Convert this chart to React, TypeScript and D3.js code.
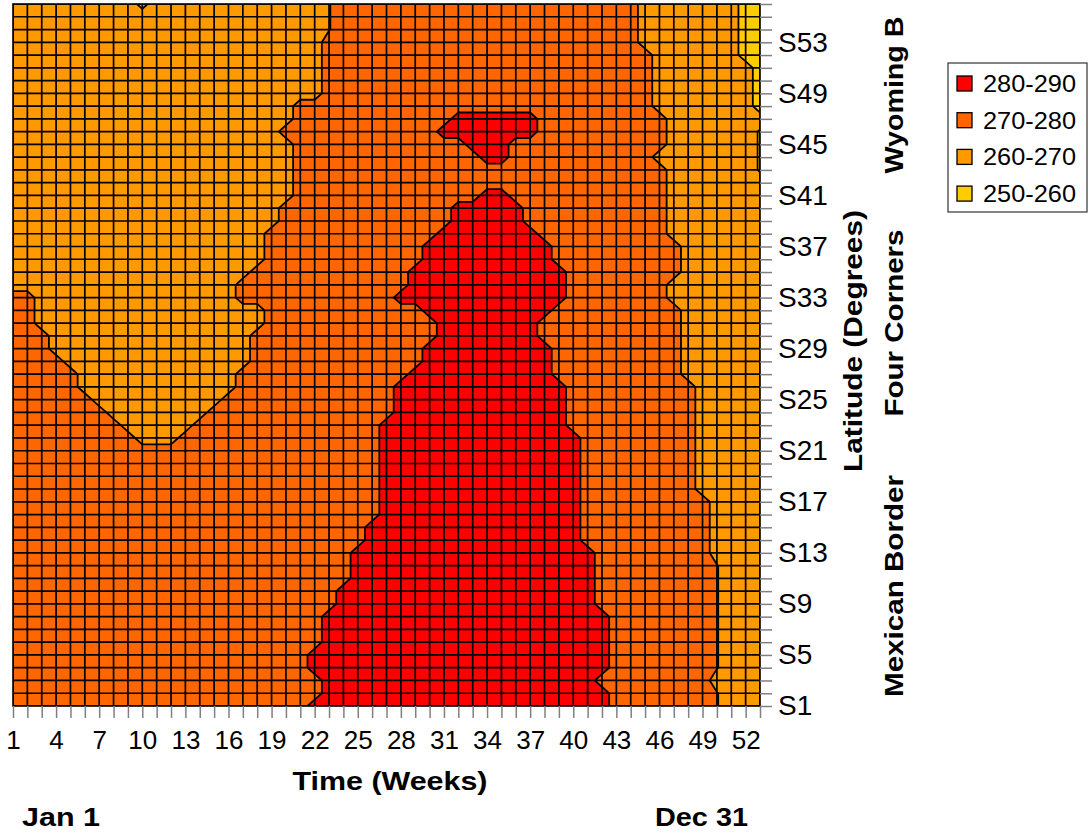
import React, { useEffect, useRef } from 'react';
import * as d3 from 'd3';

// one string per latitude series, S1 first; one letter per week (spaces only group by 5)
// y = 250-260, l = 260-270, o = 270-280, r = 280-290
// a/b = just under 260, m = just under 270, n = just over 270
const bandRows = [
  'ooooo ooooo ooooo ooooo orrrr rrrrr rrrrr rrrrr rrooo oooon lll', // S1
  'ooooo ooooo ooooo ooooo oorrr rrrrr rrrrr rrrrr rrooo oooon lll',
  'ooooo ooooo ooooo ooooo oorrr rrrrr rrrrr rrrrr roooo ooool lll',
  'ooooo ooooo ooooo ooooo orrrr rrrrr rrrrr rrrrr rrooo oooon lll',
  'ooooo ooooo ooooo ooooo orrrr rrrrr rrrrr rrrrr rrooo oooon lll', // S5
  'ooooo ooooo ooooo ooooo oorrr rrrrr rrrrr rrrrr rrooo oooon lll',
  'ooooo ooooo ooooo ooooo oorrr rrrrr rrrrr rrrrr rrooo oooon lll',
  'ooooo ooooo ooooo ooooo oorrr rrrrr rrrrr rrrrr rrooo oooon lll',
  'ooooo ooooo ooooo ooooo ooorr rrrrr rrrrr rrrrr roooo oooon lll', // S9
  'ooooo ooooo ooooo ooooo ooorr rrrrr rrrrr rrrrr roooo oooon lll',
  'ooooo ooooo ooooo ooooo oooor rrrrr rrrrr rrrrr roooo oooon lll',
  'ooooo ooooo ooooo ooooo oooor rrrrr rrrrr rrrrr roooo oooon lll',
  'ooooo ooooo ooooo ooooo oooor rrrrr rrrrr rrrrr roooo ooool lll', // S13
  'ooooo ooooo ooooo ooooo ooooo rrrrr rrrrr rrrrr ooooo ooool lll',
  'ooooo ooooo ooooo ooooo ooooo rrrrr rrrrr rrrrr ooooo ooool lll',
  'ooooo ooooo ooooo ooooo ooooo orrrr rrrrr rrrrr ooooo ooool lll',
  'ooooo ooooo ooooo ooooo ooooo orrrr rrrrr rrrrr ooooo ooool lll', // S17
  'ooooo ooooo ooooo ooooo ooooo orrrr rrrrr rrrrr ooooo oooll lll',
  'ooooo ooooo ooooo ooooo ooooo orrrr rrrrr rrrrr ooooo oooll lll',
  'ooooo ooooo ooooo ooooo ooooo orrrr rrrrr rrrrr ooooo oooll lll',
  'ooooo ooooo ooooo ooooo ooooo orrrr rrrrr rrrrr ooooo oooll lll', // S21
  'ooooo ooool llooo ooooo ooooo orrrr rrrrr rrrrr ooooo oooll lll',
  'ooooo oooll llloo ooooo ooooo orrrr rrrrr rrrro ooooo oooll lll',
  'ooooo oolll llllo ooooo ooooo oorrr rrrrr rrrro ooooo oooll lll',
  'ooooo ollll lllll ooooo ooooo oorrr rrrrr rrrro ooooo oooll lll', // S25
  'ooooo lllll lllll loooo ooooo oorrr rrrrr rrrro ooooo oooll lll',
  'ooooo lllll lllll loooo ooooo ooorr rrrrr rrroo ooooo oolll lll',
  'ooool lllll lllll llooo ooooo oooor rrrrr rrroo ooooo oolll lll',
  'oooll lllll lllll llooo ooooo oooor rrrrr rrroo ooooo oolll lll', // S29
  'oooll lllll lllll llooo ooooo ooooo rrrrr rrooo ooooo oolll lll',
  'oolll lllll lllll llloo ooooo ooooo rrrrr rrooo ooooo oolll lll',
  'oolll lllll lllll llloo ooooo oooor rrrrr rrroo ooooo oolll lll',
  'oolll lllll lllll loooo ooooo oorrr rrrrr rrrro ooooo ollll lll', // S33
  'lllll lllll lllll loooo ooooo ooorr rrrrr rrrro ooooo ollll lll',
  'lllll lllll lllll llooo ooooo ooorr rrrrr rrrro ooooo oolll lll',
  'lllll lllll lllll llloo ooooo oooor rrrrr rrroo ooooo oolll lll',
  'lllll lllll lllll llloo ooooo oooor rrrrr rrroo ooooo oolll lll', // S37
  'lllll lllll lllll llloo ooooo ooooo rrrrr rrooo ooooo ollll lll',
  'lllll lllll lllll llllo ooooo ooooo orrrr roooo ooooo ollll lll',
  'lllll lllll lllll llllo ooooo ooooo orrrr roooo ooooo ollll lll',
  'lllll lllll lllll lllll ooooo ooooo ooorr ooooo ooooo ollll lll', // S41
  'lllll lllll lllll lllll ooooo ooooo ooooo ooooo ooooo ollll lll',
  'lllll lllll lllll lllll ooooo ooooo ooooo ooooo ooooo ollll llb',
  'lllll lllll lllll lllll ooooo ooooo ooorr ooooo ooooo lllll llb',
  'lllll lllll lllll lllll ooooo ooooo oorrr ooooo ooooo ollll llb', // S45
  'lllll lllll lllll llllo ooooo ooooo rrrrr rrooo ooooo ollll llb',
  'lllll lllll lllll lllll ooooo ooooo orrrr rrooo ooooo ollll lll',
  'lllll lllll lllll lllll ooooo ooooo ooooo ooooo ooooo lllll lly',
  'lllll lllll lllll lllll llooo ooooo ooooo ooooo ooooo lllll lly', // S49
  'lllll lllll lllll lllll llooo ooooo ooooo ooooo ooooo lllll lly',
  'lllll lllll lllll lllll llooo ooooo ooooo ooooo ooooo lllll lly',
  'lllll lllll lllll lllll llooo ooooo ooooo ooooo ooooo lllll lyy',
  'lllll lllll lllll lllll llooo ooooo ooooo ooooo ooool lllll lyy', // S53
  'lllll lllll lllll lllll llmoo ooooo ooooo ooooo ooool lllll lyy',
  'lllll lllll lllll lllll llmoo ooooo ooooo ooooo ooool lllll lyy',
  'lllll lllla lllll lllll llmoo ooooo ooooo ooooo ooool lllll lyy', // S56
];

const bandValues: Record<string, number> = {
  y: 255, a: 257, b: 259, l: 265, m: 269.5, n: 270.5, o: 275, r: 285,
};

const weekCount = 53;
const seriesCount = 56;
const weekLabels = [1, 4, 7, 10, 13, 16, 19, 22, 25, 28, 31, 34, 37, 40, 43, 46, 49, 52];
const seriesLabels = [1, 5, 9, 13, 17, 21, 25, 29, 33, 37, 41, 45, 49, 53];

const levels = [250, 260, 270, 280];
const levelColors = ['#FFCC00', '#FF9900', '#FF6600', '#FF0000'];
const legendLabels = ['280-290', '270-280', '260-270', '250-260'];
const legendColors = ['#FF0000', '#FF6600', '#FF9900', '#FFCC00'];

const FONT = '"Liberation Sans", Arial, sans-serif';

export default function App() {
  const ref = useRef<SVGSVGElement>(null);

  useEffect(() => {
    const svg = d3.select(ref.current);
    svg.selectAll('*').remove();

    const L = 13, R = 760, T = 4, B = 706;

    // top row first for the contour grid
    const values: number[] = [];
    bandRows
      .slice()
      .reverse()
      .forEach(row => {
        row.replace(/ /g, '').split('').forEach(ch => values.push(bandValues[ch]));
      });

    const x = d3.scaleLinear().domain([1, weekCount]).range([L, R]);
    const y = d3.scaleLinear().domain([1, seriesCount]).range([B, T]);

    // d3.contours puts sample i at i + 0.5
    const cx = d3.scaleLinear().domain([0.5, weekCount - 0.5]).range([L, R]);
    const cy = d3.scaleLinear().domain([0.5, seriesCount - 0.5]).range([T, B]);
    const proj = d3.geoTransform({
      point(px, py) {
        this.stream.point(cx(px), cy(py));
      },
    });
    const path = d3.geoPath(proj);

    const contours = d3.contours().size([weekCount, seriesCount]).thresholds(levels)(values);

    svg
      .append('defs')
      .append('clipPath')
      .attr('id', 'plot-clip')
      .append('rect')
      .attr('x', L)
      .attr('y', T)
      .attr('width', R - L)
      .attr('height', B - T);

    const plot = svg.append('g').attr('clip-path', 'url(#plot-clip)');

    plot
      .selectAll('path.band')
      .data(contours)
      .enter()
      .append('path')
      .attr('class', 'band')
      .attr('d', d => path(d as any))
      .attr('fill', (d, i) => levelColors[i]);

    // surface wireframe
    const grid = plot.append('g').attr('stroke', '#000').attr('stroke-width', 1.7);
    grid
      .selectAll('line.v')
      .data(d3.range(1, weekCount + 1))
      .enter()
      .append('line')
      .attr('x1', d => x(d))
      .attr('x2', d => x(d))
      .attr('y1', T)
      .attr('y2', B);
    grid
      .selectAll('line.h')
      .data(d3.range(1, seriesCount + 1))
      .enter()
      .append('line')
      .attr('x1', L)
      .attr('x2', R)
      .attr('y1', d => y(d))
      .attr('y2', d => y(d));

    // contour lines
    plot
      .selectAll('path.iso')
      .data(contours.slice(1))
      .enter()
      .append('path')
      .attr('class', 'iso')
      .attr('d', d => path(d as any))
      .attr('fill', 'none')
      .attr('stroke', '#000')
      .attr('stroke-width', 1.8)
      .attr('stroke-linejoin', 'round');

    svg
      .append('rect')
      .attr('x', L)
      .attr('y', T)
      .attr('width', R - L)
      .attr('height', B - T)
      .attr('fill', 'none')
      .attr('stroke', '#000')
      .attr('stroke-width', 1.6);

    const xAxis = d3
      .axisBottom(x)
      .tickValues(d3.range(1, weekCount + 1))
      .tickSize(12)
      .tickPadding(13)
      .tickFormat(d => (weekLabels.includes(+d) ? String(d) : ''));

    const gx = svg.append('g').attr('transform', `translate(0,${B})`).call(xAxis);

    const yAxis = d3
      .axisRight(y)
      .tickValues(d3.range(1, seriesCount + 1))
      .tickSize(12)
      .tickPadding(6)
      .tickFormat(d => (seriesLabels.includes(+d) ? 'S' + d : ''));

    const gy = svg.append('g').attr('transform', `translate(${R},0)`).call(yAxis);

    [gx, gy].forEach(g => {
      g.select('.domain').remove();
      g.selectAll('.tick line').attr('stroke', '#808080').attr('stroke-width', 1.5);
      g.selectAll('.tick text').attr('fill', '#000').style('font-family', FONT);
    });
    gx.selectAll('.tick text').style('font-size', '26px');
    gy.selectAll('.tick text').style('font-size', '28px');

    const bold = (text: string, tx: number, ty: number, anchor: string, len: number, rotate = false) =>
      svg
        .append('text')
        .attr('transform', `translate(${tx},${ty})` + (rotate ? ' rotate(-90)' : ''))
        .attr('text-anchor', anchor)
        .attr('dy', rotate ? '0.35em' : 0)
        .attr('textLength', len)
        .attr('lengthAdjust', 'spacingAndGlyphs')
        .style('font-family', FONT)
        .style('font-weight', 'bold')
        .style('font-size', '26px')
        .attr('fill', '#000')
        .text(text);

    bold('Time (Weeks)', 390, 790, 'middle', 195);
    bold('Jan 1', 22, 826, 'start', 78);
    bold('Dec 31', 655, 826, 'start', 93);
    bold('Latitude (Degrees)', 853, 341, 'middle', 262, true);
    bold('Wyoming B', 894, 95, 'middle', 157, true);
    bold('Four Corners', 894, 323, 'middle', 187, true);
    bold('Mexican Border', 894, 586, 'middle', 222, true);

    // legend
    const legend = svg.append('g');
    legend
      .append('rect')
      .attr('x', 948)
      .attr('y', 63)
      .attr('width', 139)
      .attr('height', 149)
      .attr('fill', '#fff')
      .attr('stroke', '#333')
      .attr('stroke-width', 1.2);

    const items = legend
      .selectAll('g.item')
      .data(legendLabels)
      .enter()
      .append('g')
      .attr('transform', (d, i) => `translate(957,${84 + i * 36.7})`);

    items
      .append('rect')
      .attr('x', 0)
      .attr('y', -8)
      .attr('width', 15)
      .attr('height', 15)
      .attr('fill', (d, i) => legendColors[i])
      .attr('stroke', '#000')
      .attr('stroke-width', 1.3);

    items
      .append('text')
      .attr('x', 26)
      .attr('dy', '0.35em')
      .attr('textLength', 93)
      .attr('lengthAdjust', 'spacingAndGlyphs')
      .style('font-family', FONT)
      .style('font-size', '23px')
      .attr('fill', '#000')
      .text(d => d);
  }, []);

  return (
    <svg
      ref={ref}
      width={1089}
      height={836}
      style={{ position: 'absolute', left: 0, top: 0, background: '#fff' }}
    />
  );
}
